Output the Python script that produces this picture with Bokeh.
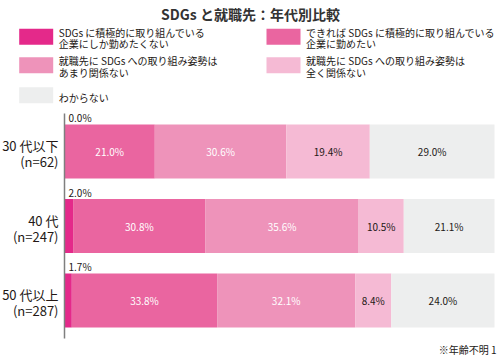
from bokeh.plotting import figure
from bokeh.models import ColumnDataSource, Range1d
from bokeh.core.properties import value
from bokeh.embed import file_html
from bokeh.resources import INLINE

# ---------------- data ----------------
title = "SDGs と就職先：年代別比較"
age_groups = ["30 代以下", "40 代", "50 代以上"]
n_labels = ["(n=62)", "(n=247)", "(n=287)"]
categories = [
    "SDGs に積極的に取り組んでいる\n企業にしか勤めたくない",
    "できれば SDGs に積極的に取り組んでいる\n企業に勤めたい",
    "就職先に SDGs への取り組み姿勢は\nあまり関係ない",
    "就職先に SDGs への取り組み姿勢は\n全く関係ない",
    "わからない",
]
only_sdgs = [0.0, 2.0, 1.7]
prefer_sdgs = [21.0, 30.8, 33.8]
little_relevance = [30.6, 35.6, 32.1]
no_relevance = [19.4, 10.5, 8.4]
unknown = [29.0, 21.1, 24.0]
footnote = "※年齢不明 1"

# ---------------- styling / layout ----------------
colors = ["#E4298A", "#EA65A0", "#EE93BA", "#F5BAD4", "#EDEEEE"]
label_colors = [None, "#FFFFFF", "#FFFFFF", "#231815", "#231815"]
FONT = value("Noto Sans CJK JP")
W, H = 500, 357
X0, XW = 64, 430          # pixel position of 0 % and width of 100 %
Y0, DY = 151, 74.5        # pixel centre of first row and row pitch
BAR_H = 54


def dx(px):
    return (px - X0) / XW * 100


def dy(py):
    return (py - Y0) / DY


p = figure(width=W, height=H, x_range=Range1d(dx(0), dx(W)),
           y_range=Range1d(dy(H), dy(0)), output_backend="svg",
           toolbar_location=None, min_border=0,
           x_axis_type=None, y_axis_type=None)
p.grid.visible = False
p.outline_line_color = None
p.background_fill_color = "white"

series = [only_sdgs, prefer_sdgs, little_relevance, no_relevance, unknown]
keys = ["s0", "s1", "s2", "s3", "s4"]
rows = list(range(len(age_groups)))
data = {"row": rows}
for k, s in zip(keys, series):
    data[k] = s
src = ColumnDataSource(data)

p.hbar_stack(keys, y="row", height=BAR_H / DY, color=colors,
             line_color=None, source=src)

# inner value labels
lx, ly, lt, lc = [], [], [], []
for i in rows:
    cum = 0.0
    for k, s in enumerate(series):
        v = s[i]
        if k > 0:
            lx.append(cum + v / 2)
            ly.append(i)
            lt.append(f"{v:.1f}%")
            lc.append(label_colors[k])
        cum += v
p.text(x=lx, y=ly, text=lt, text_color=lc, text_align="center",
       text_baseline="middle", text_font=FONT, text_font_size="10px")

# first-category labels above each bar
top_y = [i - (BAR_H / 2 + 7) / DY for i in rows]
p.text(x=[0] * len(rows), y=top_y, text=[f"{v:.1f}%" for v in only_sdgs],
       x_offset=4, text_color="#231815", text_align="left",
       text_baseline="middle", text_font=FONT, text_font_size="10px")

# category axis labels
p.text(x=[dx(58)] * len(rows), y=[i - 6 / DY for i in rows], text=age_groups,
       text_color="#231815", text_align="right", text_baseline="middle",
       text_font=FONT, text_font_size="13px")
p.text(x=[dx(58)] * len(rows), y=[i + 10 / DY for i in rows], text=n_labels,
       text_color="#231815", text_align="right", text_baseline="middle",
       text_font=FONT, text_font_size="13px")

# axis line
p.segment(x0=[0], x1=[0], y0=[dy(113)], y1=[dy(338)],
          line_color="#7F7F7F", line_width=1.5)

# title
p.text(x=[dx(250)], y=[dy(13)], text=[title], text_color="#333333",
       text_align="center", text_baseline="middle", text_font=FONT,
       text_font_size="14px", text_font_style="bold")

# legend (manual)
leg_pos = [(18.7, 28.3), (266, 28.3), (18.7, 56.7), (266, 56.7), (18.7, 86.7)]
for (sx, sy), c, name in zip(leg_pos, colors, categories):
    p.quad(left=[dx(sx)], right=[dx(sx + 34)], top=[dy(sy)],
           bottom=[dy(sy + 16)], color=c, line_color=None)
    lines = name.split("\n")
    if len(lines) == 1:
        ys = [sy + 10.5]
    else:
        ys = [sy + 3.5, sy + 15]
    p.text(x=[dx(sx + 39.5)] * len(lines), y=[dy(v) for v in ys], text=lines,
           text_color="#231815", text_align="left", text_baseline="middle",
           text_font=FONT, text_font_size="10px")

# footnote
p.text(x=[dx(496)], y=[dy(349)], text=[footnote], text_color="#231815",
       text_align="right", text_baseline="middle", text_font=FONT,
       text_font_size="10px")

open("out.html", "w").write(file_html(p, INLINE))
